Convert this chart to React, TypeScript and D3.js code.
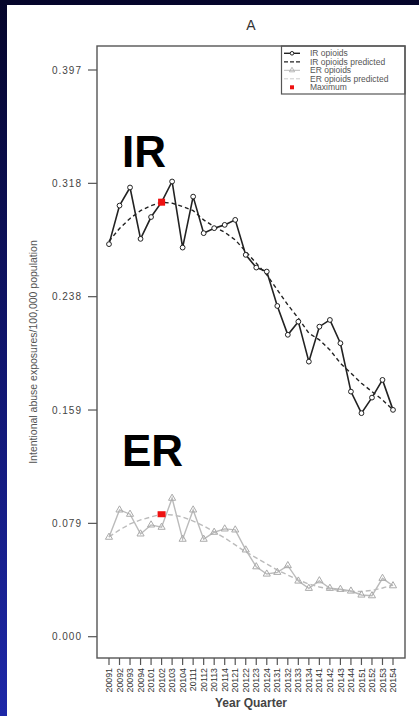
import React from "react";
import * as d3 from "d3";

const quarters = [
  "20091","20092","20093","20094","20101","20102","20103","20104",
  "20111","20112","20113","20114","20121","20122","20123","20124",
  "20131","20132","20133","20134","20141","20142","20143","20144",
  "20151","20152","20153","20154",
];
const irObserved = [
  0.275, 0.302, 0.3147, 0.2787, 0.294, 0.3044, 0.3189, 0.2726, 0.3083, 0.2827,
  0.2862, 0.2885, 0.292, 0.2675, 0.2586, 0.2558, 0.2317, 0.2115, 0.2207, 0.1927,
  0.2172, 0.2219, 0.2056, 0.1717, 0.1566, 0.1675, 0.1799, 0.1589,
];
const irPredicted = [
  0.277, 0.286, 0.293, 0.2985, 0.302, 0.3044, 0.3037, 0.3013, 0.2985, 0.292,
  0.2873, 0.2833, 0.278, 0.2698, 0.2617, 0.2535, 0.243, 0.2325, 0.2231, 0.2126,
  0.208, 0.2009, 0.1916, 0.1846, 0.1776, 0.1717, 0.1659, 0.1589,
];
const erObserved = [
  0.0697, 0.0888, 0.0858, 0.072, 0.0783, 0.0767, 0.097, 0.0683, 0.0888, 0.0683,
  0.0732, 0.0755, 0.0748, 0.0608, 0.049, 0.0439, 0.0451, 0.0498, 0.039, 0.0339,
  0.0392, 0.0339, 0.0332, 0.032, 0.0292, 0.0287, 0.0409, 0.0357,
];
const erPredicted = [
  0.0699, 0.0748, 0.079, 0.0818, 0.0839, 0.0858, 0.0853, 0.0839, 0.081, 0.0776,
  0.0734, 0.0692, 0.0643, 0.0594, 0.0552, 0.051, 0.0467, 0.0432, 0.0397, 0.0369,
  0.0348, 0.0334, 0.0324, 0.0317, 0.0317, 0.0324, 0.0341, 0.0362,
];
const irMaxIndex = 5;
const erMaxIndex = 5;
const yTicks = [0, 0.0794, 0.1588, 0.2382, 0.3176, 0.397];
const legendLabels = ["IR opioids", "IR opioids predicted", "ER opioids", "ER opioids predicted", "Maximum"];

const W = 419;
const H = 716;
const box = { left: 97, right: 405, top: 46, bottom: 658 };
const FONT = "'Liberation Sans', Arial, Helvetica, sans-serif";

export default function App() {
  const x = d3.scalePoint<string>().domain(quarters).range([box.left, box.right]).padding(1.14);
  const y = d3.scaleLinear().domain([0, 0.397]).range([636.7, 70]);
  const fmt = d3.format(".3f");

  const line = d3
    .line<number>()
    .x((_, i) => x(quarters[i]) as number)
    .y((d) => y(d));

  const tri = d3.symbol().type(d3.symbolTriangle).size(22)() as string;

  return (
    <svg width={W} height={H} style={{ position: "absolute", left: 0, top: 0 }} fontFamily={FONT}>
      <defs>
        <linearGradient id="bg" x1="0" y1="0" x2="0" y2="1">
          <stop offset="0" stopColor="#05052a" />
          <stop offset="0.5" stopColor="#10156e" />
          <stop offset="1" stopColor="#1e28a8" />
        </linearGradient>
      </defs>
      <rect x={0} y={0} width={W} height={H} fill="url(#bg)" />
      <rect x={7} y={5} width={W - 7} height={H - 5} fill="#ffffff" />

      {/* title */}
      <text x={(box.left + box.right) / 2} y={30} textAnchor="middle" fontSize={14} fill="#333">
        A
      </text>

      {/* y axis */}
      {yTicks.map((t) => (
        <g key={t}>
          <line x1={88} x2={box.left} y1={y(t)} y2={y(t)} stroke="#555" strokeWidth={1.2} />
          <text x={82} y={y(t)} dy="0.35em" textAnchor="end" fontSize={10} fill="#444" letterSpacing={1}>
            {fmt(t)}
          </text>
        </g>
      ))}
      <text
        transform={`translate(37,${(box.top + box.bottom) / 2}) rotate(-90)`}
        textAnchor="middle"
        fontSize={10.5}
        fill="#555"
      >
        Intentional abuse exposures/100,000 population
      </text>

      {/* x axis */}
      {quarters.map((q) => (
        <g key={q}>
          <line x1={x(q)} x2={x(q)} y1={box.bottom} y2={box.bottom + 7} stroke="#555" strokeWidth={1.2} />
          <text
            transform={`translate(${x(q)},${box.bottom + 10}) rotate(-90)`}
            dy="0.35em"
            textAnchor="end"
            fontSize={8.8}
            fill="#333"
          >
            {q}
          </text>
        </g>
      ))}
      <text x={(box.left + box.right) / 2} y={707} textAnchor="middle" fontSize={12} fontWeight="bold" fill="#444">
        Year Quarter
      </text>

      {/* ER series */}
      <path d={line(erPredicted) as string} fill="none" stroke="#bbb" strokeWidth={1.4} strokeDasharray="5,3" />
      <path d={line(erObserved) as string} fill="none" stroke="#bbb" strokeWidth={1.4} />
      {erObserved.map((v, i) => (
        <path
          key={i}
          d={tri}
          transform={`translate(${x(quarters[i])},${y(v)})`}
          fill="none"
          stroke="#aaa"
          strokeWidth={1}
        />
      ))}

      {/* IR series */}
      <path d={line(irPredicted) as string} fill="none" stroke="#222" strokeWidth={1.4} strokeDasharray="4,3" />
      <path d={line(irObserved) as string} fill="none" stroke="#222" strokeWidth={1.6} />
      {irObserved.map((v, i) => (
        <circle key={i} cx={x(quarters[i])} cy={y(v)} r={2.4} fill="#fff" stroke="#222" strokeWidth={1} />
      ))}

      {/* maxima */}
      <rect
        x={(x(quarters[irMaxIndex]) as number) - 3.5}
        y={y(irPredicted[irMaxIndex]) - 3.5}
        width={7}
        height={7}
        fill="#ee1111"
      />
      <rect
        x={(x(quarters[erMaxIndex]) as number) - 4}
        y={y(erPredicted[erMaxIndex]) - 3}
        width={8}
        height={6}
        fill="#ee1111"
      />

      {/* big labels */}
      <text x={122} y={167} fontSize={44} fontWeight="bold" fill="#000">
        IR
      </text>
      <text x={122} y={466} fontSize={44} fontWeight="bold" fill="#000">
        ER
      </text>

      {/* legend */}
      <rect x={281.5} y={box.top} width={box.right - 281.5} height={48} fill="#fff" stroke="#555" strokeWidth={1.2} />
      {legendLabels.map((lab, i) => {
        const ly = 53.3 + i * 8.5;
        return (
          <g key={lab}>
            {i === 0 && (
              <>
                <line x1={284} x2={300} y1={ly} y2={ly} stroke="#222" strokeWidth={1.4} />
                <circle cx={292} cy={ly} r={1.8} fill="#fff" stroke="#222" strokeWidth={1} />
              </>
            )}
            {i === 1 && <line x1={284} x2={300} y1={ly} y2={ly} stroke="#222" strokeWidth={1.2} strokeDasharray="4,2" />}
            {i === 2 && (
              <>
                <line x1={284} x2={300} y1={ly} y2={ly} stroke="#bbb" strokeWidth={1} />
                <path d={d3.symbol().type(d3.symbolTriangle).size(12)() as string} transform={`translate(292,${ly})`} fill="none" stroke="#aaa" strokeWidth={0.8} />
              </>
            )}
            {i === 3 && <line x1={284} x2={300} y1={ly} y2={ly} stroke="#ccc" strokeWidth={1} strokeDasharray="4,2" />}
            {i === 4 && <rect x={290} y={ly - 2} width={4} height={4} fill="#ee1111" />}
            <text x={310} y={ly} dy="0.35em" fontSize={8.5} fill="#555">
              {lab}
            </text>
          </g>
        );
      })}

      {/* frame */}
      <rect
        x={box.left}
        y={box.top}
        width={box.right - box.left}
        height={box.bottom - box.top}
        fill="none"
        stroke="#555"
        strokeWidth={1.4}
      />
    </svg>
  );
}
